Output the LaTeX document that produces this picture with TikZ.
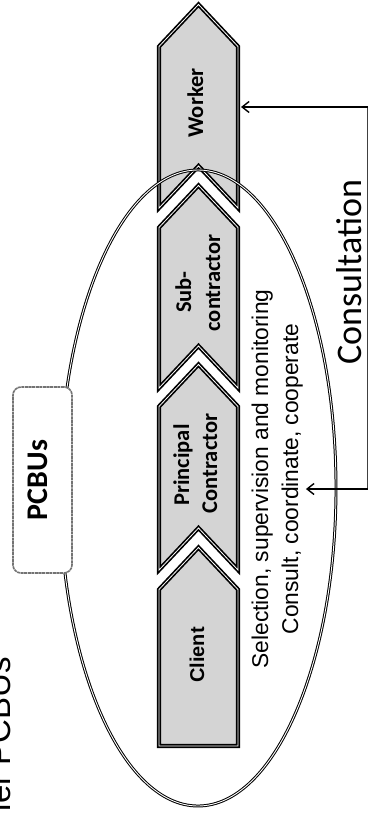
\documentclass[tikz,border=0pt]{standalone}
\usepackage{fontspec}
\setmainfont{Liberation Sans}
\newfontfamily\carlito{Carlito}
\usetikzlibrary{arrows.meta}
\tikzset{
  chev/.style={fill=black!17, draw=black, line width=1.7pt, double=white, double distance=0.8pt, line join=miter},
  ell/.style={draw=black, line width=1pt, double=white, double distance=0.9pt},
  pcbox/.style={draw=black!55, line width=1.6pt, dash pattern=on 3pt off 0.6pt, fill=white, rounded corners=8pt, minimum width=59pt, minimum height=186pt, inner sep=0pt},
  lbl/.style={rotate=90, anchor=base, inner sep=0pt, font=\carlito\bfseries\fontsize{22.5}{27}\selectfont},
  rot/.style={rotate=90, anchor=base, inner sep=0pt},
  conn/.style={draw=black!75, line width=0.8pt},
  arr/.style={draw=black, line width=1.4pt, -{Straight Barb[length=7pt,width=11pt]}}
}
\newcommand\chevron[2]{\draw[chev] (159,{#1+42}) -- (198.5,#1) -- (238,{#1+42}) -- (238,#2) -- (198.5,{#2-42}) -- (159,#2) -- cycle;}
\begin{document}
\begin{tikzpicture}[x=1pt,y=-1pt]
\useasboundingbox (0,0) rectangle (369,819);
\clip (0,0) rectangle (369,819);
% chevrons
\chevron{4.5}{208}
\chevron{185.5}{388}
\chevron{364.5}{570}
\draw[chev] (159,589.5) -- (198.5,547.5) -- (238,589.5) -- (238,746) -- (159,746) -- cycle;
% ellipse
\draw[ell] (198,488) ellipse [x radius=138pt, y radius=318pt];
% labels
\node[lbl] (worker) at (203,103) {Worker};
\node[lbl] (subA) at (191,292) {Sub-};
\node[lbl] (subB) at (220,283) {contractor};
\node[lbl] (prA) at (189,465) {Principal};
\node[lbl] (prB) at (217,463.5) {Contractor};
\node[rot, font=\bfseries\fontsize{20}{24}\selectfont] (client) at (204,655) {Client};
% PCBUs box
\node[pcbox] (pcbox) at (42.5,480) {};
\node[rot, font=\carlito\bfseries\fontsize{30}{36}\selectfont] (pcbus) at (47,480) {PCBUs};
% partial title
\node[rotate=90, anchor=base east, inner sep=0pt, font=\fontsize{33}{40}\selectfont] (title) at (10.5,657) {ler PCBUs};
% duty texts
\node[rot, font=\fontsize{22.8}{27}\selectfont] (sel) at (268,479) {Selection, supervision and monitoring};
\node[rot, font=\fontsize{22.8}{27}\selectfont, inner sep=3pt, anchor=base] (cons) at (298,479) {Consult, coordinate, cooperate};
% consultation
\node[rot, font=\carlito\fontsize{36}{42}\selectfont] (consul) at (361,272) {Consultation};
% connectors
\coordinate (tr) at (367.5,107);
\coordinate (br) at (367.5,489);
\coordinate (wk) at (241,107);
\draw[conn] (tr) -- (br);
\draw[arr] (tr) -- (wk);
\draw[arr] (br) -- (br -| cons.south);
\end{tikzpicture}
\end{document}
